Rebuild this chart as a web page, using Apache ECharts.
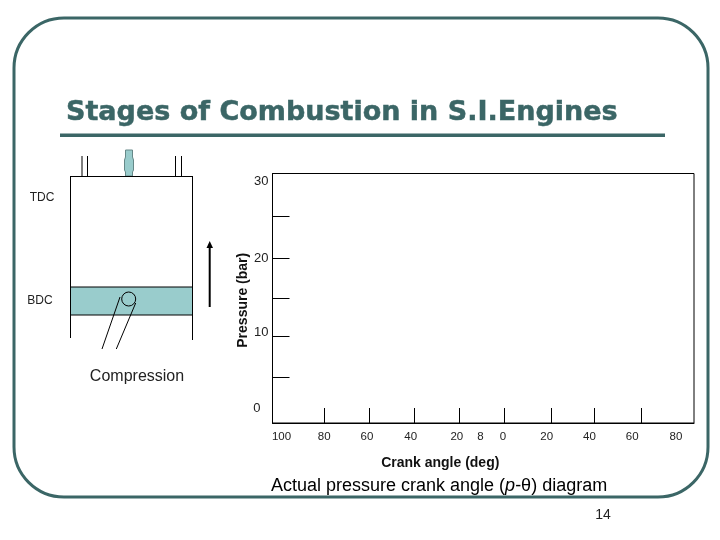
<!DOCTYPE html>
<html><head><meta charset="utf-8">
<style>html,body{margin:0;padding:0;background:#fff}#c{width:720px;height:540px}</style>
<script src="https://cdn.jsdelivr.net/npm/echarts@6/dist/echarts.min.js"></script>
</head><body><div id="c"></div>
<script>
const xTickValues = [-80, -60, -40, -20, 0, 21, 40, 61];
const xLabelValues = [-99, -80, -61, -41.5, -21, -10.5, -0.5, 19, 38, 57, 76.5];
const xLabelText = ['100', '80', '60', '40', '20', '8', '0', '20', '40', '60', '80'];
const yTickValues = [5.5, 10.4, 15, 19.8, 24.8];
const yLabelValues = [1.8, 10.9, 19.8, 29];
const yLabelText = ['0', '10', '20', '30'];

const FRAME = '#3b6666', FILL = '#99cccc';
const FONT = '"Liberation Sans", Arial, sans-serif';
const line = (x1, y1, x2, y2, lw) => ({type: 'line', shape: {x1, y1, x2, y2}, style: {stroke: '#000', lineWidth: lw || 1}});
const label = (text, x, y, size) => ({type: 'text', x, y, style: {text, x: 0, y: 0, align: 'center', verticalAlign: 'middle', fill: '#222', font: (size || 12) + 'px ' + FONT}});

const chart = echarts.init(document.getElementById('c'), null, {renderer: 'canvas'});
chart.setOption({
  animation: false,
  backgroundColor: '#fff',
  title: {
    text: 'Stages of Combustion in S.I.Engines', left: 61, top: 94,
    textStyle: {fontFamily: '"DejaVu Sans", sans-serif', fontWeight: 'bold', fontSize: 27, color: FRAME, textBorderColor: FRAME, textBorderWidth: 0.5}
  },
  grid: {left: 272.5, top: 173.5, width: 421.5, height: 249.5, show: true, borderColor: '#000', borderWidth: 1},
  xAxis: {
    type: 'value', min: -103, max: 84.5, splitLine: {show: false},
    axisLine: {onZero: false, lineStyle: {color: '#000'}},
    axisTick: {inside: true, length: 15, customValues: xTickValues, lineStyle: {color: '#000'}},
    axisLabel: {customValues: xLabelValues, margin: 8, color: '#222', fontFamily: FONT, fontSize: 11.5, hideOverlap: false,
      formatter: (v) => xLabelText[xLabelValues.indexOf(v)]},
    name: 'Crank angle (deg)', nameLocation: 'middle', nameGap: 33,
    nameTextStyle: {fontFamily: FONT, fontWeight: 'bold', fontSize: 14, color: '#111', padding: [0, 86, 0, 0]}
  },
  yAxis: {
    type: 'value', min: 0, max: 30, splitLine: {show: false},
    axisLine: {onZero: false, lineStyle: {color: '#000'}},
    axisTick: {inside: true, length: 17, customValues: yTickValues, lineStyle: {color: '#000'}},
    axisLabel: {customValues: yLabelValues, margin: 4, color: '#222', fontFamily: FONT, fontSize: 13, hideOverlap: false,
      formatter: (v) => { const t = yLabelText[yLabelValues.indexOf(v)]; return t === '0' ? '{z|' + t + '}' : t; },
      rich: {z: {padding: [0, 8, 0, 0], fontSize: 13, fontFamily: FONT, color: '#222'}}},
    name: 'Pressure (bar)', nameLocation: 'middle', nameGap: 22, nameMoveOverlap: false,
    nameTextStyle: {fontFamily: FONT, fontWeight: 'bold', fontSize: 14, color: '#111', padding: [0, 4, 0, 0]}
  },
  series: [{type: 'line', data: []}],
  graphic: [
    {type: 'rect', shape: {x: 14, y: 18, width: 694, height: 479, r: 50}, style: {fill: 'none', stroke: FRAME, lineWidth: 3}},
    {type: 'rect', shape: {x: 60, y: 133.5, width: 605, height: 3.5}, style: {fill: FRAME}},
    // Engine cylinder
    line(82, 156, 82, 176), line(87.5, 156, 87.5, 176), line(175.5, 156, 175.5, 176), line(181.5, 156, 181.5, 176),
    {type: 'polygon', shape: {points: [[125.5, 150], [132.5, 150], [132.5, 157], [133.5, 160], [133.5, 170], [132.5, 172], [132.5, 176], [125.5, 176], [125.5, 172], [124.5, 170], [124.5, 160], [125.5, 157]]}, style: {fill: FILL, stroke: '#668888', lineWidth: 1}},
    line(70.5, 176.5, 192.5, 176.5), line(70.5, 176, 70.5, 338), line(192.5, 176, 192.5, 340),
    {type: 'rect', shape: {x: 70.5, y: 287, width: 122, height: 28}, style: {fill: FILL, stroke: '#000', lineWidth: 1}},
    {type: 'circle', shape: {cx: 128.7, cy: 299, r: 7}, style: {fill: 'none', stroke: '#000', lineWidth: 1}},
    line(120, 297, 102, 349), line(135.7, 303, 116.3, 349),
    line(209.7, 307, 209.7, 246, 2),
    {type: 'polygon', shape: {points: [[209.7, 241], [206.5, 248], [213, 248]]}, style: {fill: '#000'}},
    label('TDC', 42, 198), label('BDC', 40, 300.5),
    label('Compression', 137, 377, 16),
    label('14', 603, 515.5, 14),
    {type: 'text', x: 271, y: 486, style: {
      text: 'Actual pressure crank angle ({i|p}-θ) diagram', x: 0, y: 0, verticalAlign: 'middle',
      fill: '#000', font: '18px ' + FONT, rich: {i: {fontStyle: 'italic', fontSize: 18, fontFamily: FONT, fill: '#000'}}}}
  ]
});
</script></body></html>
